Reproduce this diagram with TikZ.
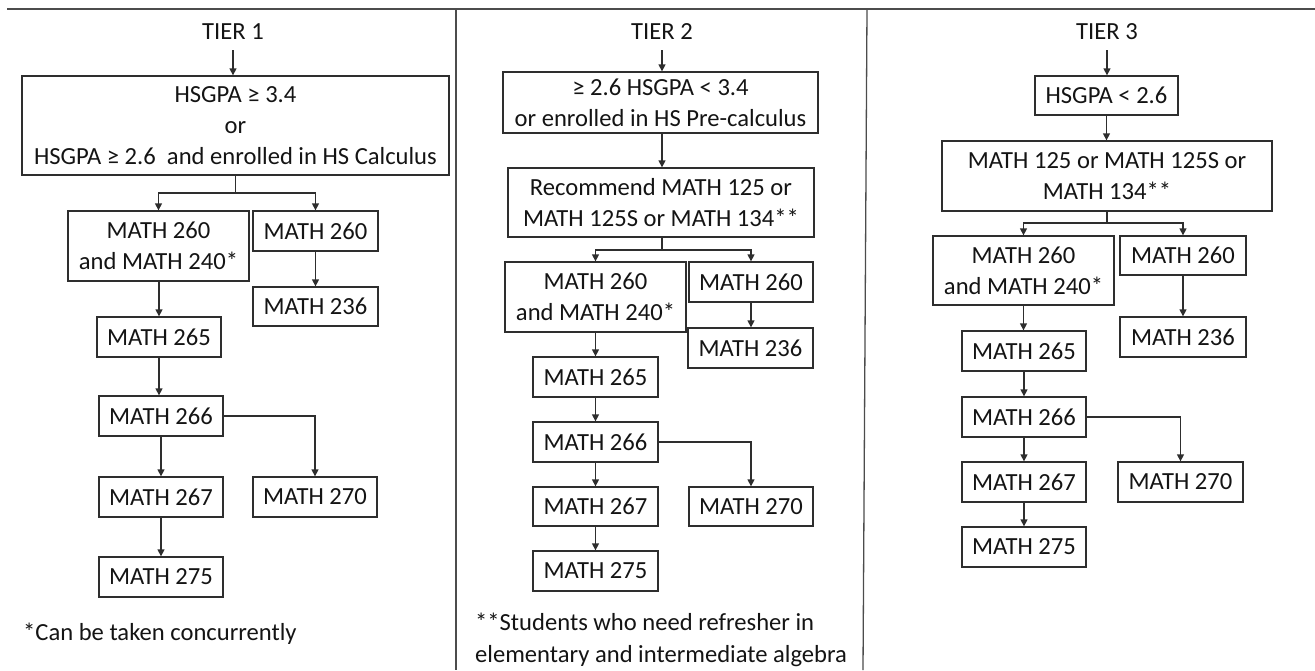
\documentclass[tikz,border=0pt]{standalone}
\usepackage{fontspec}
\setmainfont{Carlito}
\usetikzlibrary{arrows.meta}
\definecolor{ink}{HTML}{141414}
\definecolor{edge}{HTML}{2E2E2E}
\tikzset{
  every node/.style={font=\fontsize{24.6}{31}\selectfont, text=ink},
  bx/.style={draw=edge, line width=1.3pt, inner sep=0pt, align=center},
  tier/.style={inner sep=0pt, minimum height=36pt},
  arr/.style={draw=edge, line width=1.3pt, -{Triangle[length=7pt,width=7pt]}},
  ln/.style={draw=edge, line width=1.3pt},
  sep/.style={draw=black!70, line width=1.3pt},
  note/.style={anchor=west, inner sep=0pt, align=left}
}
\begin{document}
\begin{tikzpicture}[x=1pt,y=-1pt]
\useasboundingbox (0,0) rectangle (1315,670);
% frame lines
\draw[sep] (7,9) -- (1315,9);
\draw[sep] (456,9) -- (456,670);
\draw[sep] (867,9) -- (863,670);

% ---------------- TIER 1 ----------------
\node[tier] (t1) at (233,32) {TIER 1};
\node[bx, minimum width=427pt, minimum height=99pt] (c1) at (235.5,125.5)
  {HSGPA ≥ 3.4\\or\\HSGPA ≥ 2.6\ \ and enrolled in HS Calculus};
\node[bx, minimum width=181pt, minimum height=70pt] (a1) at (158.5,246) {MATH 260\\and MATH 240*};
\node[bx, minimum width=125pt, minimum height=40pt] (b1) at (315.5,231) {MATH 260};
\node[bx, minimum width=125pt, minimum height=39pt] (d1) at (315.5,306.5) {MATH 236};
\node[bx, minimum width=124pt, minimum height=40pt] (e1) at (159,337) {MATH 265};
\node[bx, minimum width=124pt, minimum height=40pt] (f1) at (161,416) {MATH 266};
\node[bx, minimum width=124pt, minimum height=40pt] (g1) at (161,497) {MATH 267};
\node[bx, minimum width=124pt, minimum height=40pt] (h1) at (315,497) {MATH 270};
\node[bx, minimum width=124pt, minimum height=40pt] (i1) at (161,577) {MATH 275};
\node[note] (n1) at (23,634) {*Can be taken concurrently};
\coordinate (j1) at (235.5,193);
\draw[arr] (t1.south) -- (t1.south |- c1.north);
\draw[ln] (c1.south) -- (j1);
\draw[arr] (j1) -| (a1.north);
\draw[arr] (j1) -| (b1.north);
\draw[arr] (b1) -- (b1 |- d1.north);
\draw[arr] (a1.south -| e1) -- (e1.north);
\draw[arr] (e1) -- (e1 |- f1.north);
\draw[arr] (f1) -- (f1 |- g1.north);
\draw[arr] (g1) -- (g1 |- i1.north);
\draw[arr] (f1.east) -| (h1.north);

% ---------------- TIER 2 ----------------
\node[tier] (t2) at (662,32) {TIER 2};
\node[bx, minimum width=315pt, minimum height=61pt] (c2) at (660.5,102.5)
  {≥ 2.6 HSGPA < 3.4\\or enrolled in HS Pre-calculus};
\node[bx, minimum width=306pt, minimum height=69pt] (r2) at (661,202.5)
  {Recommend MATH 125 or\\MATH 125S or MATH 134**};
\node[bx, minimum width=181pt, minimum height=70pt] (a2) at (595.5,297) {MATH 260\\and MATH 240*};
\node[bx, minimum width=124pt, minimum height=40pt] (b2) at (751,282) {MATH 260};
\node[bx, minimum width=125pt, minimum height=40pt] (d2) at (750.5,348) {MATH 236};
\node[bx, minimum width=125pt, minimum height=40pt] (e2) at (595.5,377) {MATH 265};
\node[bx, minimum width=125pt, minimum height=40pt] (f2) at (595.5,442) {MATH 266};
\node[bx, minimum width=125pt, minimum height=39pt] (g2) at (595.5,506.5) {MATH 267};
\node[bx, minimum width=124pt, minimum height=39pt] (h2) at (751,506.5) {MATH 270};
\node[bx, minimum width=125pt, minimum height=40pt] (i2) at (595.5,571) {MATH 275};
\node[note, font=\fontsize{24.6}{32}\selectfont] (n2) at (475,640)
  {**Students who need refresher in\\elementary and intermediate algebra};
\coordinate (j2) at (662,250);
\draw[arr] (t2.south) -- (t2.south |- c2.north);
\draw[arr] (c2.south -| t2) -- (t2 |- r2.north);
\draw[ln] (r2.south -| t2) -- (j2);
\draw[arr] (j2) -| (a2.north);
\draw[arr] (j2) -| (b2.north);
\draw[arr] (b2) -- (b2 |- d2.north);
\draw[arr] (a2) -- (a2 |- e2.north);
\draw[arr] (e2) -- (e2 |- f2.north);
\draw[arr] (f2) -- (f2 |- g2.north);
\draw[arr] (g2) -- (g2 |- i2.north);
\draw[arr] (f2.east) -| (h2.north);

% ---------------- TIER 3 ----------------
\node[tier] (t3) at (1107,32) {TIER 3};
\node[bx, minimum width=143pt, minimum height=39pt] (c3) at (1106.5,95.5) {HSGPA < 2.6};
\node[bx, minimum width=330pt, minimum height=70pt] (r3) at (1107,176)
  {MATH 125 or MATH 125S or\\MATH 134**};
\node[bx, minimum width=181pt, minimum height=69pt] (a3) at (1023.5,270.5) {MATH 260\\and MATH 240*};
\node[bx, minimum width=126pt, minimum height=39pt] (b3) at (1183,255.5) {MATH 260};
\node[bx, minimum width=126pt, minimum height=40pt] (d3) at (1183,337) {MATH 236};
\node[bx, minimum width=124pt, minimum height=40pt] (e3) at (1024,351) {MATH 265};
\node[bx, minimum width=124pt, minimum height=40pt] (f3) at (1024,417) {MATH 266};
\node[bx, minimum width=124pt, minimum height=40pt] (g3) at (1024,482) {MATH 267};
\node[bx, minimum width=125pt, minimum height=40pt] (h3) at (1180.5,482) {MATH 270};
\node[bx, minimum width=124pt, minimum height=40pt] (i3) at (1024,547) {MATH 275};
\coordinate (j3) at (1107,223);
\draw[arr] (t3.south) -- (t3.south |- c3.north);
\draw[arr] (c3) -- (c3 |- r3.north);
\draw[ln] (r3) -- (j3);
\draw[arr] (j3) -| (a3.north);
\draw[arr] (j3) -| (b3.north);
\draw[arr] (b3) -- (b3 |- d3.north);
\draw[arr] (a3) -- (a3 |- e3.north);
\draw[arr] (e3) -- (e3 |- f3.north);
\draw[arr] (f3) -- (f3 |- g3.north);
\draw[arr] (g3) -- (g3 |- i3.north);
\draw[arr] (f3.east) -| (h3.north);
\end{tikzpicture}
\end{document}
